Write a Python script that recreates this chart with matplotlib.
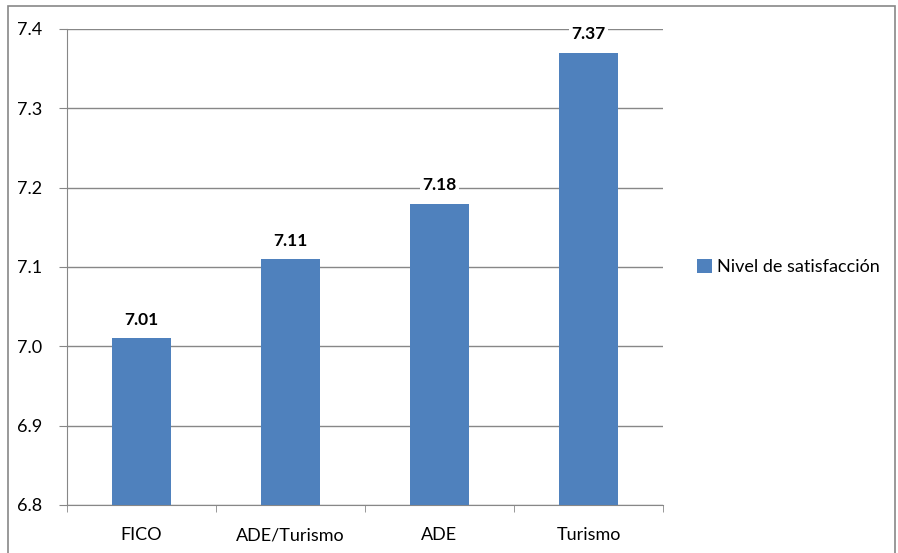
import matplotlib.pyplot as plt
from matplotlib.patches import Rectangle
import numpy as np

categories = ['FICO', 'ADE/Turismo', 'ADE', 'Turismo']
values = [7.01, 7.11, 7.18, 7.37]
series_name = 'Nivel de satisfacción'

plt.rcParams['font.family'] = ['Lato', 'DejaVu Sans']

fig = plt.figure(figsize=(8.98, 5.53), dpi=100)
ax = fig.add_axes([0.0746, 0.0868, 0.6637, 0.8608])

x = np.arange(len(categories))
bars = ax.bar(x, np.array(values) - 6.8, bottom=6.8, width=0.4,
              color='#4F81BD', label=series_name, zorder=3)

for xi, v in zip(x, values):
    ax.text(xi, v + 0.013, f'{v:.2f}', ha='center', va='bottom',
            fontsize=12.5, fontweight='bold', zorder=4,
            bbox=dict(facecolor='white', edgecolor='none', pad=2))

ax.set_ylim(6.8, 7.4)
ax.set_xlim(-0.5, len(categories) - 0.5)
ax.set_yticks(np.arange(6.8, 7.41, 0.1))
ax.set_yticklabels([f'{t:.1f}' for t in np.arange(6.8, 7.41, 0.1)], fontsize=13)
ax.set_xticks(x)
ax.set_xticklabels(categories, fontsize=13)
ax.tick_params(axis='x', length=0, pad=16)
ax.set_xticks(np.arange(-0.5, len(categories)), minor=True)
ax.tick_params(axis='x', which='minor', length=5, color='#878787', direction='out')
ax.tick_params(axis='y', length=6, color='#878787', pad=12)
ax.yaxis.grid(True, color='#878787', linewidth=1, zorder=0)

for side in ['top', 'right']:
    ax.spines[side].set_visible(False)
for side in ['left', 'bottom']:
    ax.spines[side].set_color('#878787')

ax.legend(loc='center left', bbox_to_anchor=(1.03, 0.5), frameon=False,
          fontsize=13, handlelength=0.8, handleheight=0.8, handletextpad=0.3)

fig.patches.append(Rectangle((0.009, -0.01), 0.988, 1.0, transform=fig.transFigure,
                             fill=False, edgecolor='#878787', linewidth=1.2))

fig.savefig('out.png', dpi=100)
